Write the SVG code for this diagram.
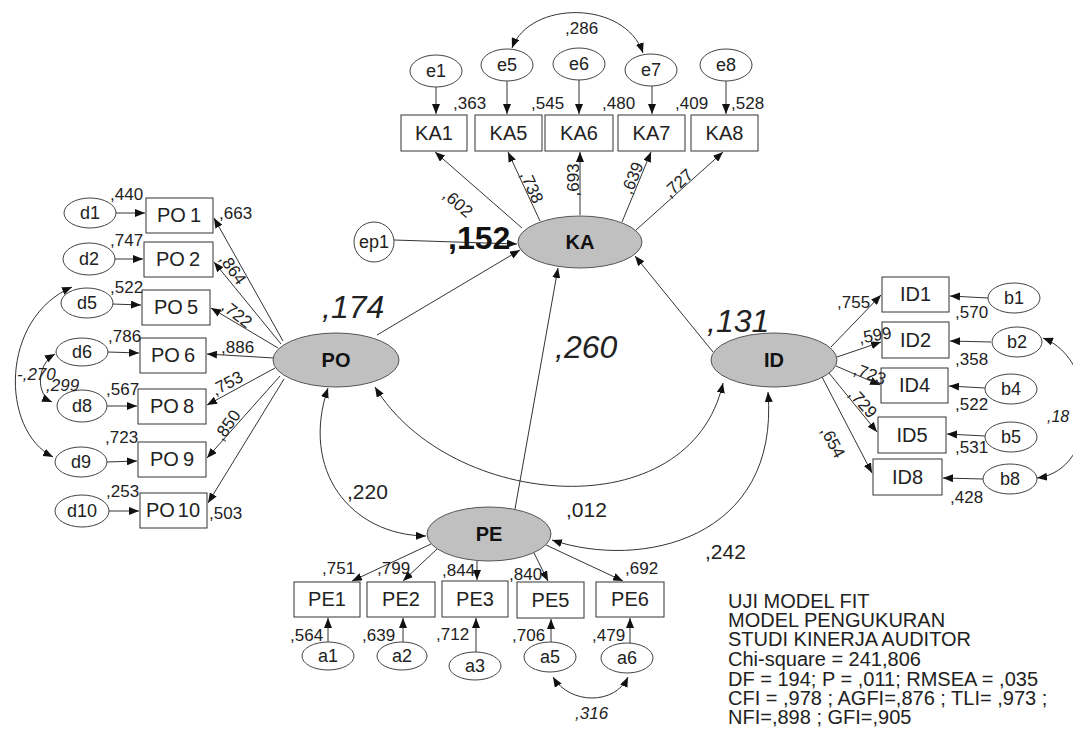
<svg xmlns="http://www.w3.org/2000/svg" width="1073" height="737" viewBox="0 0 1073 737">
<defs>
<marker id="ah" viewBox="0 0 10 8" refX="10" refY="4" markerWidth="10" markerHeight="8" orient="auto-start-reverse" markerUnits="userSpaceOnUse"><path d="M0,0 L10,4 L0,8 z" fill="#111"/></marker>
</defs>
<style>
text{font-family:"Liberation Sans",Arial,sans-serif;fill:#222}
.ln{stroke:#333;stroke-width:1;fill:none;marker-end:url(#ah)}
.cv{stroke:#333;stroke-width:1;fill:none;marker-end:url(#ah);marker-start:url(#ah)}
.box{fill:#fff;stroke:#333;stroke-width:1}
.err{fill:#fff;stroke:#444;stroke-width:1}
.lat{fill:#c0c0c0;stroke:#555;stroke-width:1}
.bt{font-size:20px;text-anchor:middle}
.et{font-size:18px;text-anchor:middle}
.lt{font-size:20px;font-weight:bold;text-anchor:middle;fill:#111}
.n{font-size:17px}
.c{font-size:21px}
.big{font-size:32px;font-style:italic}
.it{font-style:italic}
.info{font-size:20px}
</style>
<rect width="1073" height="737" fill="#fff"/>
<g id="connectors">
<path class="ln" d="M522,228 L435,152"/>
<path class="ln" d="M540,221 L508,152"/>
<path class="ln" d="M580,215 L580,152"/>
<path class="ln" d="M622,222 L651,152"/>
<path class="ln" d="M636,230 L723,152"/>
<path class="ln" d="M436,87 L436,114"/>
<path class="ln" d="M507,81 L507,114"/>
<path class="ln" d="M579,80 L579,114"/>
<path class="ln" d="M652,86 L652,114"/>
<path class="ln" d="M726,81 L726,114"/>
<path class="cv" d="M512,48 C530,0 625,0 643,53"/>
<path class="ln" d="M394,240 L517,244"/>
<path class="ln" d="M377,335 L520,250"/>
<path class="ln" d="M515,509 L558,268"/>
<path class="ln" d="M713,352 L635,256"/>
<path class="ln" d="M283,341 L214,218"/>
<path class="ln" d="M281,344 L214,262"/>
<path class="ln" d="M278,348 L211,308"/>
<path class="ln" d="M274,358 L207,354"/>
<path class="ln" d="M275,368 L207,405"/>
<path class="ln" d="M280,376 L207,458"/>
<path class="ln" d="M284,379 L208,503"/>
<path class="ln" d="M116,213 L145,213"/>
<path class="ln" d="M115,259 L143,259"/>
<path class="ln" d="M112,304 L141,305"/>
<path class="ln" d="M108,352 L139,353"/>
<path class="ln" d="M107,406 L137,406"/>
<path class="ln" d="M107,462 L137,461"/>
<path class="ln" d="M108,511 L139,511"/>
<path class="cv" d="M72,287 C0,318 0,430 53,457"/>
<path class="cv" d="M55,354 C36,365 36,395 52,402"/>
<path class="ln" d="M831,347 L881,295"/>
<path class="ln" d="M837,357 L881,342"/>
<path class="ln" d="M836,366 L880,385"/>
<path class="ln" d="M829,373 L877,432"/>
<path class="ln" d="M822,377 L872,473"/>
<path class="ln" d="M988,298 L950,296"/>
<path class="ln" d="M991,342 L950,341"/>
<path class="ln" d="M985,388 L949,386"/>
<path class="ln" d="M985,436 L947,434"/>
<path class="ln" d="M983,479 L943,478"/>
<path class="cv" d="M1043,338 C1100,360 1100,470 1037,478"/>
<path class="ln" d="M431,544 L352,581"/>
<path class="ln" d="M437,549 L403,581"/>
<path class="ln" d="M477,561 L477,580"/>
<path class="ln" d="M534,553 L548,581"/>
<path class="ln" d="M546,545 L623,581"/>
<path class="ln" d="M328,642 L328,618"/>
<path class="ln" d="M403,642 L403,618"/>
<path class="ln" d="M476,652 L476,618"/>
<path class="ln" d="M551,643 L551,619"/>
<path class="ln" d="M630,644 L630,618"/>
<path class="cv" d="M553,677 C570,705 615,705 628,677"/>
<path class="cv" d="M328,388 C300,470 350,535 426,536"/>
<path class="cv" d="M375,387 C450,510 690,530 723,383"/>
<path class="cv" d="M552,540 C640,570 780,540 768,392"/>
</g>
<g id="KA"><ellipse class="lat" cx="580" cy="242" rx="62" ry="26"/><text class="lt" x="580" y="249">KA</text></g>
<g id="PO"><ellipse class="lat" cx="336" cy="360" rx="63" ry="27"/><text class="lt" x="336" y="367">PO</text></g>
<g id="ID"><ellipse class="lat" cx="774" cy="360" rx="63" ry="27"/><text class="lt" x="774" y="367">ID</text></g>
<g id="PE"><ellipse class="lat" cx="489" cy="534" rx="62" ry="27"/><text class="lt" x="489" y="541">PE</text></g>
<g id="ep1"><circle class="err" cx="374" cy="242" r="20"/><text class="et" x="374" y="248">ep1</text></g>
<g id="KA1"><rect class="box" x="401" y="115" width="66" height="36"/><text class="bt" x="434" y="140">KA1</text></g>
<g id="KA5"><rect class="box" x="475" y="115" width="67" height="36"/><text class="bt" x="508.5" y="140">KA5</text></g>
<g id="KA6"><rect class="box" x="545" y="115" width="68" height="36"/><text class="bt" x="579" y="140">KA6</text></g>
<g id="KA7"><rect class="box" x="618" y="115" width="67" height="36"/><text class="bt" x="651.5" y="140">KA7</text></g>
<g id="KA8"><rect class="box" x="691" y="115" width="67" height="36"/><text class="bt" x="724.5" y="140">KA8</text></g>
<g id="e1"><ellipse class="err" cx="436" cy="71" rx="26" ry="16"/><text class="et" x="436" y="77">e1</text></g>
<g id="e5"><ellipse class="err" cx="507" cy="65" rx="26" ry="16"/><text class="et" x="507" y="71">e5</text></g>
<g id="e6"><ellipse class="err" cx="579" cy="64" rx="26" ry="16"/><text class="et" x="579" y="70">e6</text></g>
<g id="e7"><ellipse class="err" cx="651" cy="70" rx="26" ry="16"/><text class="et" x="651" y="76">e7</text></g>
<g id="e8"><ellipse class="err" cx="726" cy="65" rx="26" ry="16"/><text class="et" x="726" y="71">e8</text></g>
<g id="PO1"><rect class="box" x="146" y="198" width="67" height="35"/><text class="bt" x="179" y="222">PO<tspan dx="4">1</tspan></text></g>
<g id="PO2"><rect class="box" x="144" y="242" width="69" height="35"/><text class="bt" x="178" y="266">PO<tspan dx="4">2</tspan></text></g>
<g id="PO5"><rect class="box" x="142" y="290" width="68" height="35"/><text class="bt" x="176" y="314">PO<tspan dx="4">5</tspan></text></g>
<g id="PO6"><rect class="box" x="140" y="338" width="66" height="35"/><text class="bt" x="173" y="362">PO<tspan dx="4">6</tspan></text></g>
<g id="PO8"><rect class="box" x="138" y="389" width="68" height="35"/><text class="bt" x="172" y="413">PO<tspan dx="4">8</tspan></text></g>
<g id="PO9"><rect class="box" x="138" y="442" width="68" height="35"/><text class="bt" x="172" y="466">PO<tspan dx="4">9</tspan></text></g>
<g id="PO10"><rect class="box" x="140" y="493" width="67" height="35"/><text class="bt" x="173" y="517">PO<tspan dx="3">10</tspan></text></g>
<g id="d1"><ellipse class="err" cx="90" cy="213" rx="26" ry="15"/><text class="et" x="90" y="219">d1</text></g>
<g id="d2"><ellipse class="err" cx="89" cy="259" rx="26" ry="16"/><text class="et" x="89" y="265">d2</text></g>
<g id="d5"><ellipse class="err" cx="87" cy="303" rx="26" ry="15"/><text class="et" x="87" y="309">d5</text></g>
<g id="d6"><ellipse class="err" cx="82" cy="352" rx="26" ry="14"/><text class="et" x="82" y="358">d6</text></g>
<g id="d8"><ellipse class="err" cx="82" cy="406" rx="25" ry="16"/><text class="et" x="82" y="412">d8</text></g>
<g id="d9"><ellipse class="err" cx="81" cy="462" rx="26" ry="15"/><text class="et" x="81" y="468">d9</text></g>
<g id="d10"><ellipse class="err" cx="82" cy="511" rx="27" ry="16"/><text class="et" x="82" y="517">d10</text></g>
<g id="ID1"><rect class="box" x="882" y="277" width="67" height="35"/><text class="bt" x="915.5" y="301">ID1</text></g>
<g id="ID2"><rect class="box" x="882" y="322" width="67" height="36"/><text class="bt" x="915.5" y="347">ID2</text></g>
<g id="ID4"><rect class="box" x="881" y="368" width="67" height="35"/><text class="bt" x="914.5" y="392">ID4</text></g>
<g id="ID5"><rect class="box" x="878" y="417" width="68" height="36"/><text class="bt" x="912" y="442">ID5</text></g>
<g id="ID8"><rect class="box" x="873" y="459" width="69" height="36"/><text class="bt" x="907.5" y="484">ID8</text></g>
<g id="b1"><ellipse class="err" cx="1014" cy="298" rx="26" ry="15"/><text class="et" x="1014" y="304">b1</text></g>
<g id="b2"><ellipse class="err" cx="1017" cy="342" rx="25" ry="15"/><text class="et" x="1017" y="348">b2</text></g>
<g id="b4"><ellipse class="err" cx="1011" cy="389" rx="26" ry="15"/><text class="et" x="1011" y="395">b4</text></g>
<g id="b5"><ellipse class="err" cx="1011" cy="437" rx="26" ry="15"/><text class="et" x="1011" y="443">b5</text></g>
<g id="b8"><ellipse class="err" cx="1010" cy="479" rx="27" ry="15"/><text class="et" x="1010" y="485">b8</text></g>
<g id="PE1"><rect class="box" x="294" y="582" width="66" height="35"/><text class="bt" x="327" y="606">PE1</text></g>
<g id="PE2"><rect class="box" x="367" y="582" width="68" height="35"/><text class="bt" x="401" y="606">PE2</text></g>
<g id="PE3"><rect class="box" x="442" y="581" width="66" height="36"/><text class="bt" x="475" y="606">PE3</text></g>
<g id="PE5"><rect class="box" x="517" y="582" width="67" height="36"/><text class="bt" x="550.5" y="607">PE5</text></g>
<g id="PE6"><rect class="box" x="596" y="582" width="68" height="35"/><text class="bt" x="630" y="606">PE6</text></g>
<g id="a1"><ellipse class="err" cx="328" cy="656" rx="26" ry="14"/><text class="et" x="328" y="662">a1</text></g>
<g id="a2"><ellipse class="err" cx="402" cy="656" rx="25" ry="14"/><text class="et" x="402" y="662">a2</text></g>
<g id="a3"><ellipse class="err" cx="475" cy="666" rx="26" ry="14"/><text class="et" x="475" y="672">a3</text></g>
<g id="a5"><ellipse class="err" cx="550" cy="657" rx="26" ry="15"/><text class="et" x="550" y="663">a5</text></g>
<g id="a6"><ellipse class="err" cx="627" cy="658" rx="26" ry="15"/><text class="et" x="627" y="664">a6</text></g>
<g id="labels">
<text class="n" x="453" y="109">,363</text>
<text class="n" x="531" y="109">,545</text>
<text class="n" x="602" y="109">,480</text>
<text class="n" x="675" y="109">,409</text>
<text class="n" x="731" y="109">,528</text>
<text class="n" x="565" y="34">,286</text>
<text class="n" text-anchor="middle" transform="translate(458,203) rotate(41)" y="6">,602</text>
<text class="n" text-anchor="middle" transform="translate(532,187) rotate(66)" y="6">,738</text>
<text class="n" text-anchor="middle" transform="translate(573,180) rotate(-90)" y="6">,693</text>
<text class="n" text-anchor="middle" transform="translate(632,178) rotate(-68)" y="6">,639</text>
<text class="n" text-anchor="middle" transform="translate(678,183) rotate(-42)" y="6">,727</text>
<text x="448" y="249" style="font-size:32px;font-weight:bold;fill:#111">,152</text>
<text class="big" x="322" y="318">,174</text>
<text class="big" x="555" y="358">,260</text>
<text class="big" x="707" y="332">,131</text>
<text class="n" x="110" y="200">,440</text>
<text class="n" x="110" y="246">,747</text>
<text class="n" x="110" y="293">,522</text>
<text class="n" x="108" y="342">,786</text>
<text class="n" x="106" y="395">,567</text>
<text class="n" x="105" y="443">,723</text>
<text class="n" x="106" y="497">,253</text>
<text class="n" x="219" y="219">,663</text>
<text class="n" text-anchor="middle" transform="translate(233,269) rotate(55)" y="6">,864</text>
<text class="n" text-anchor="middle" transform="translate(237,314) rotate(38)" y="6">,722</text>
<text class="n" x="221" y="353">,886</text>
<text class="n" text-anchor="middle" transform="translate(227,383) rotate(-28)" y="6">,753</text>
<text class="n" text-anchor="middle" transform="translate(227,425) rotate(-55)" y="6">,850</text>
<text class="n" x="209" y="519">,503</text>
<text class="n it" x="17" y="380">-,270</text>
<text class="n it" x="46" y="391">,299</text>
<text class="n" x="837" y="308">,755</text>
<text class="n" text-anchor="middle" transform="translate(875,335) rotate(-10)" y="6">,599</text>
<text class="n" text-anchor="middle" transform="translate(870,374) rotate(20)" y="6">,723</text>
<text class="n" text-anchor="middle" transform="translate(863,403) rotate(48)" y="6">,729</text>
<text class="n" text-anchor="middle" transform="translate(833,442) rotate(62)" y="6">,654</text>
<text class="n" x="955" y="318">,570</text>
<text class="n" x="955" y="365">,358</text>
<text class="n" x="955" y="410">,522</text>
<text class="n" x="955" y="453">,531</text>
<text class="n" x="950" y="503">,428</text>
<text class="it" x="1047" y="422" style="font-size:16px">,18</text>
<text class="n" x="322" y="574">,751</text>
<text class="n" x="377" y="574">,799</text>
<text class="n" x="442" y="576">,844</text>
<text class="n" x="509" y="580">,840</text>
<text class="n" x="625" y="574">,692</text>
<text class="n" x="290" y="641">,564</text>
<text class="n" x="362" y="641">,639</text>
<text class="n" x="436" y="640">,712</text>
<text class="n" x="512" y="641">,706</text>
<text class="n" x="592" y="641">,479</text>
<text class="n it" x="575" y="719">,316</text>
<text class="c" x="347" y="499">,220</text>
<text class="c" x="566" y="517">,012</text>
<text class="c" x="705" y="559">,242</text>
</g>
<g id="fit">
<text class="info"><tspan x="728" y="608">UJI MODEL FIT</tspan><tspan x="728" y="627">MODEL PENGUKURAN</tspan><tspan x="728" y="646">STUDI KINERJA AUDITOR</tspan><tspan x="728" y="666">Chi-square = 241,806</tspan><tspan x="728" y="686">DF = 194; P = ,011; RMSEA = ,035</tspan><tspan x="728" y="705">CFI = ,978 ; AGFI=,876 ; TLI= ,973 ;</tspan><tspan x="728" y="724">NFI=,898 ; GFI=,905</tspan></text>
</g>
</svg>
